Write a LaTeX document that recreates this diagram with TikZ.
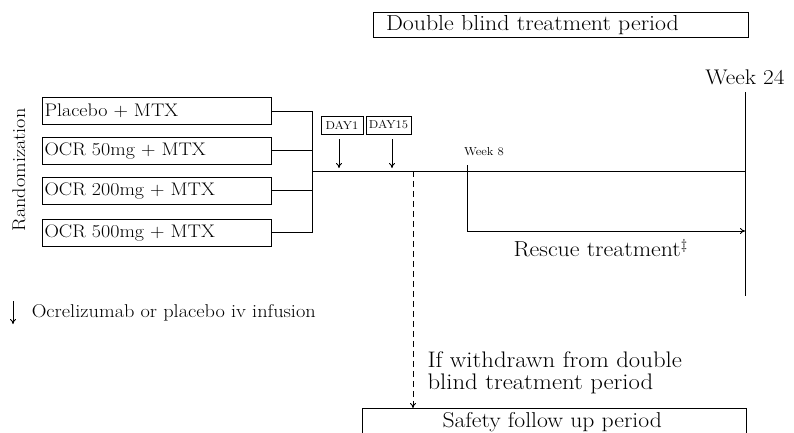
\documentclass[tikz,border=0pt]{standalone}
\usepackage{amsmath}
\usepackage{fontspec}
\setmainfont{Latin Modern Roman}[FakeStretch=1.1]
\usetikzlibrary{arrows.meta}
\tikzset{
    big/.style={font=\fontsize{21.7}{22}\selectfont},
    grp/.style={draw,anchor=west,minimum width=229pt,minimum height=27pt,inner sep=2pt,
                text width=225pt,align=left,font=\fontsize{18.2}{20}\selectfont},
    daybox/.style={draw,minimum height=18pt,inner sep=1.5pt,font=\fontsize{11.5}{12}\selectfont},
    inf/.style={-{To[length=5pt,width=6pt]},shorten >=3pt}
}
\begin{document}
\begin{tikzpicture}[x=1pt,y=-1pt,line width=1pt]
                    \useasboundingbox (0,0) rectangle (794,432);
                    \clip (0,0) rectangle (794,432);
                    \node[draw,big,minimum width=375pt,minimum height=24pt,inner xsep=13pt,
                          text width=349pt,align=left] (dbp) at (560.5,25) {Double blind treatment period};
                    \node[font=\fontsize{21.2}{22}\selectfont] (w24) at (745,77) {Week 24};
                    \coordinate (w24t) at (745,92);
                    \coordinate (w24b) at (745,296);
                    \node[font=\fontsize{18.4}{20}\selectfont,rotate=90] (rnd) at (19,170) {Randomization};
                    \node[grp] (g1) at (42,111) {Placebo + MTX};
                    \node[grp] (g2) at (42,150.5) {OCR 50mg + MTX};
                    \node[grp] (g3) at (42,190.5) {OCR 200mg + MTX};
                    \node[grp] (g4) at (42,232.5) {OCR 500mg + MTX};
                    \coordinate (jn) at (312,171);
                    \draw (g1.east) -- (g1.east -| jn) -- (g4.east -| jn) -- (g4.east);
                    \draw (g2.east) -- (g2.east -| jn);
                    \draw (g3.east) -- (g3.east -| jn);
                    \draw (jn) -- (jn -| w24b);
                    \draw (w24t) -- (w24b);
                    \node[daybox,minimum width=42pt] (d1) at (342,125) {DAY1};
                    \node[daybox,minimum width=45pt] (d15) at (388.5,125) {DAY15};
                    \coordinate (a1) at (339,139);
                    \coordinate (a15) at (392,139);
                    \draw[inf] (a1) -- (a1 |- jn);
                    \draw[inf] (a15) -- (a15 |- jn);
                    \node[font=\fontsize{11.6}{13}\selectfont] (w8) at (484,152) {Week 8};
                    \coordinate (w8t) at (467,165);
                    \coordinate (rs) at (467,231);
                    \draw[-{To[length=5pt,width=6pt]}] (w8t) -- (rs) -- (rs -| w24b);
                    \node[big,anchor=west,inner sep=0pt] (rsc) at (513,248) {Rescue treatment$^{\ddagger}$};
                    \node[draw,anchor=north west,minimum width=384pt,minimum height=27pt,
                          font=\fontsize{21.5}{22}\selectfont,text width=360pt,align=left,inner xsep=12pt,inner ysep=1pt] (sf) at (362,408)
                          {\hspace*{68pt}Safety follow up period};
                    \coordinate (dj) at (413,171);
                    \draw[dashed,dash pattern=on 6pt off 4pt,-{To[length=5pt,width=6pt]}] (dj) -- (dj |- sf.north);
                    \node[font=\fontsize{22.5}{22}\selectfont,anchor=west,align=left,inner sep=0pt] (wd) at (427,373)
                          {If withdrawn from double\\blind treatment period};
                    \coordinate (lg) at (13,301);
                    \draw[inf,shorten >=0pt] (lg) -- (13,324);
                    \node[font=\fontsize{18.5}{20}\selectfont,anchor=west] (lgt) at (28,313)
                          {Ocrelizumab or placebo iv infusion};
\end{tikzpicture}
\end{document}
